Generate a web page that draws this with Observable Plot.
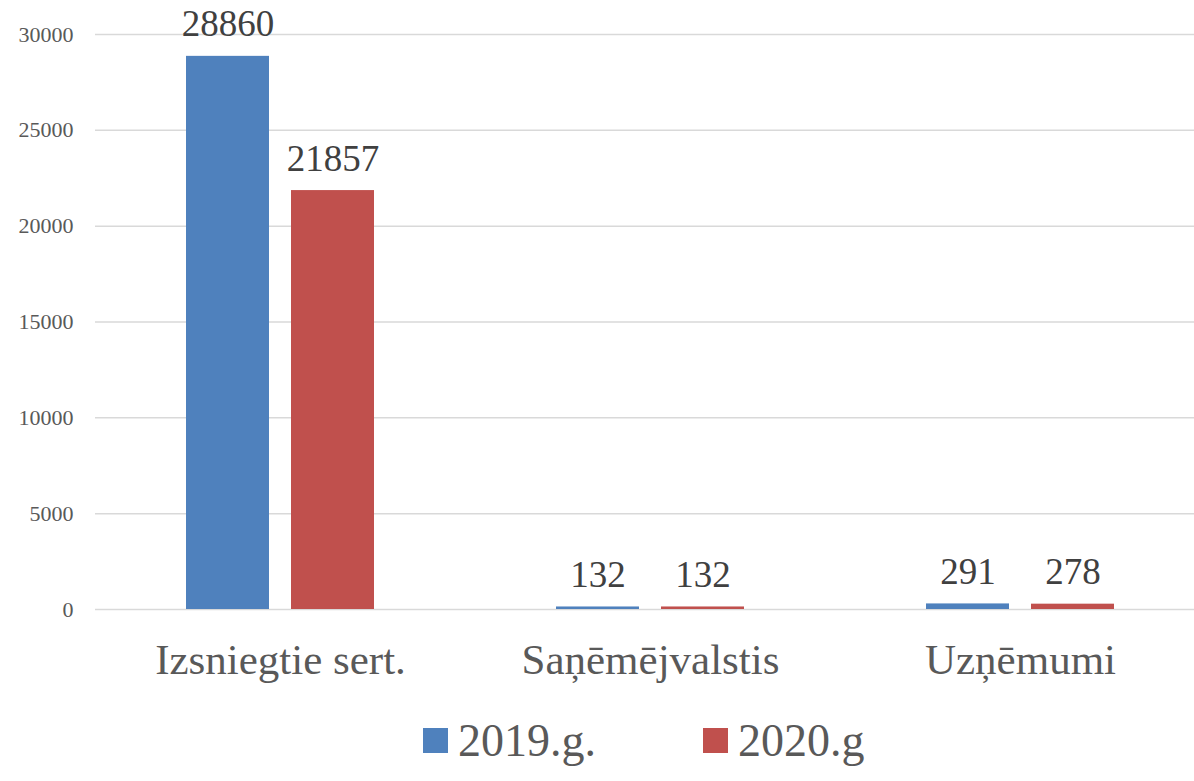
<!DOCTYPE html>
<html>
<head>
<meta charset="utf-8">
<script src="https://cdn.jsdelivr.net/npm/d3@7"></script>
<script src="https://cdn.jsdelivr.net/npm/@observablehq/plot@0.6"></script>
<style>
  html, body { margin: 0; padding: 0; background: #fff; }
  #chart { width: 1194px; }
  .legend { position: relative; height: 81px; width: 1194px; font-family: "Liberation Serif", "Tinos", "Times New Roman", "DejaVu Serif", "Noto Serif", serif; font-size: 46px; color: #595959; }
  .legend .item { position: absolute; top: 0; display: flex; align-items: center; height: 81px; }
  .legend .sw { width: 25px; height: 25px; display: inline-block; margin-right: 10px; }
</style>
</head>
<body>
<div id="chart"></div>
<script>
const categories = ["Izsniegtie sert.", "Saņēmējvalstis", "Uzņēmumi"];
const years = ["2019.g.", "2020.g"];
const values2019 = [28860, 132, 291];
const values2020 = [21857, 132, 278];
const colors = ["#4F81BD", "#C0504D"];
const yTicks = [0, 5000, 10000, 15000, 20000, 25000, 30000];

const rows2019 = categories.map((c, i) => ({category: c, year: years[0], value: values2019[i]}));
const rows2020 = categories.map((c, i) => ({category: c, year: years[1], value: values2020[i]}));

const font = "'Liberation Serif', 'Tinos', 'Times New Roman', 'DejaVu Serif', 'Noto Serif', serif";

const chart = Plot.plot({
  width: 1194,
  height: 700,
  marginLeft: 95,
  marginRight: 0,
  marginTop: 34,
  marginBottom: 91,
  style: {fontFamily: font, background: "#fff"},
  x: {domain: categories, range: [95, 1205], padding: 0},
  y: {domain: [0, 30000]},
  marks: [
    Plot.gridY(yTicks, {stroke: "#d9d9d9", strokeOpacity: 1, strokeWidth: 1.5}),
    Plot.axisY(yTicks, {tickSize: 0, tickPadding: 22, tickFormat: d3.format("d"), fontSize: 22, fill: "#595959", fontFamily: font, label: null}),
    Plot.axisX({tickSize: 0, tickPadding: 34, fontSize: 43, fill: "#595959", fontFamily: font, label: null}),
    Plot.barY(rows2019, {x: "category", y: "value", fill: colors[0], insetLeft: 91, insetRight: 196}),
    Plot.barY(rows2020, {x: "category", y: "value", fill: colors[1], insetLeft: 196, insetRight: 91}),
    Plot.text(rows2019, {x: "category", y: "value", text: d => String(d.value), dx: -52.5, dy: -20, lineAnchor: "bottom", fontSize: 37, fill: "#404040", fontFamily: font}),
    Plot.text(rows2020, {x: "category", y: "value", text: d => String(d.value), dx: 52.5, dy: -20, lineAnchor: "bottom", fontSize: 37, fill: "#404040", fontFamily: font})
  ]
});
document.getElementById("chart").appendChild(chart);

const legend = document.createElement("div");
legend.className = "legend";
const lefts = [423, 703];
years.forEach((y, i) => {
  const item = document.createElement("div");
  item.className = "item";
  item.style.left = lefts[i] + "px";
  const sw = document.createElement("span");
  sw.className = "sw";
  sw.style.background = colors[i];
  const t = document.createElement("span");
  t.textContent = y;
  item.appendChild(sw);
  item.appendChild(t);
  legend.appendChild(item);
});
document.body.appendChild(legend);
</script>
</body>
</html>
